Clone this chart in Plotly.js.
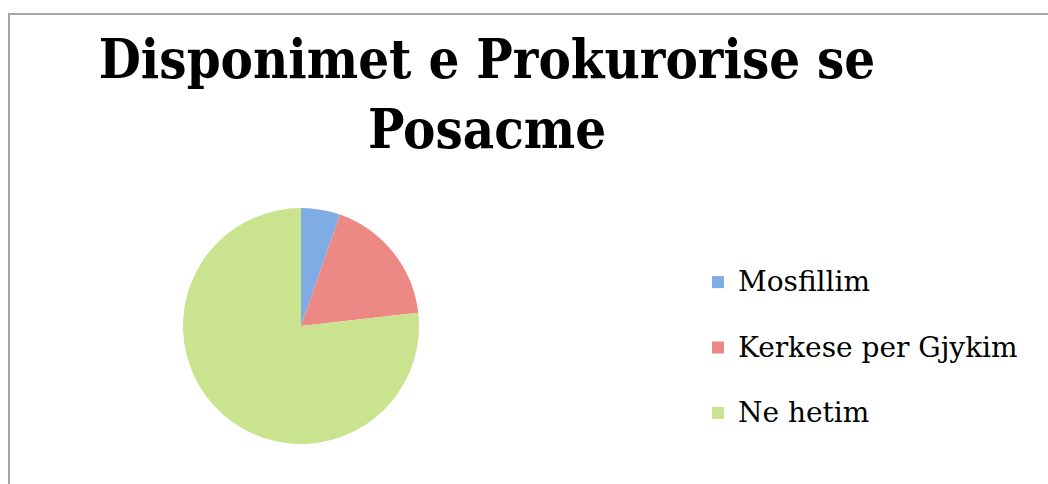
<!DOCTYPE html>
<html>
<head>
<meta charset="utf-8">
<script src="https://cdn.plot.ly/plotly-3.0.1.min.js"></script>
<style>
html,body{margin:0;padding:0;background:#fff;}
#chart{width:1048px;height:484px;}
</style>
</head>
<body>
<div id="chart"></div>
<script>
var categories = ["Mosfillim", "Kerkese per Gjykim", "Ne hetim"];
var values = [3, 10, 43];
var colors = ["#80ace6", "#ec8985", "#c9e38f"];
var titleLines = ["Disponimet e Prokurorise se", "Posacme"];

var W = 1048, H = 484;
var cx = 301, cy = 326, r = 118;

var labels = categories.map(function(c){ return '<span style="font-size:28px">' + c + '</span><br> '; });

var trace = {
  type: 'pie',
  labels: labels,
  values: values,
  sort: false,
  direction: 'clockwise',
  rotation: 0,
  marker: {colors: colors, line: {width: 0}},
  textinfo: 'none',
  hoverinfo: 'none',
  domain: {
    x: [(cx - r) / W, (cx + r) / W],
    y: [(H - cy - r) / H, (H - cy + r) / H]
  }
};

var layout = {
  width: W, height: H,
  margin: {l: 0, r: 0, t: 0, b: 0},
  paper_bgcolor: '#ffffff',
  title: {
    text: titleLines.join('<br>'),
    font: {family: 'DejaVu Serif Condensed, DejaVu Serif', size: 54, color: '#000000', weight: 'bold'},
    x: 487 / W, xanchor: 'center',
    y: 1 - 78 / H, yanchor: 'top', yref: 'container'
  },
  showlegend: true,
  legend: {
    x: 698 / W, xanchor: 'left',
    y: 1 - 260 / H, yanchor: 'top',
    valign: 'top',
    font: {family: 'DejaVu Serif', size: 24, color: '#000000'},
    bgcolor: 'rgba(0,0,0,0)'
  },
  shapes: [{
    type: 'path', xref: 'paper', yref: 'paper',
    path: 'M ' + (9 / W) + ' 0 L ' + (9 / W) + ' ' + (1 - 14 / H) + ' L 1 ' + (1 - 14 / H),
    line: {color: '#a6a6a6', width: 2}
  }]
};

Plotly.newPlot('chart', [trace], layout, {displayModeBar: false, staticPlot: true});
</script>
</body>
</html>
